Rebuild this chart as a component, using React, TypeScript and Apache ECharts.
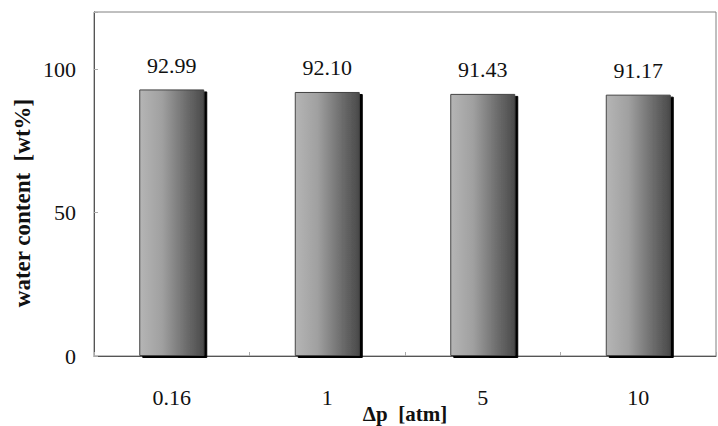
import React, { useEffect, useRef } from "react";
import * as echarts from "echarts";

const categories = ["0.16", "1", "5", "10"];
const waterContent = [92.99, 92.1, 91.43, 91.17];
const yTicks = { min: 0, max: 120, interval: 50 };
const xAxisName = "Δp  [atm]";
const yAxisName = "water content  [wt%]";

export default function App() {
  const ref = useRef<HTMLDivElement>(null);
  useEffect(() => {
    if (!ref.current) return;
    const chart = echarts.init(ref.current, null, { renderer: "svg" });
    const font = "'Liberation Serif', 'Times New Roman', serif";
    chart.setOption({
      animation: false,
      backgroundColor: "#ffffff",
      grid: {
        left: 94,
        right: 2,
        top: 12,
        bottom: 70,
        show: true,
        borderColor: "#808080",
        borderWidth: 1,
        outerBoundsMode: "none",
        containLabel: false,
      },
      xAxis: {
        type: "category",
        data: categories,
        name: xAxisName,
        nameLocation: "middle",
        nameGap: 47,
        nameMoveOverlap: false,
        nameTextStyle: { fontFamily: font, fontSize: 21, fontWeight: "bold", color: "#111" },
        axisLine: { lineStyle: { color: "#555", width: 1 } },
        axisTick: { show: true, inside: true, length: 4, lineStyle: { color: "#aaa" } },
        axisLabel: { margin: 30, fontFamily: font, fontSize: 22, color: "#111" },
      },
      yAxis: {
        type: "value",
        min: yTicks.min,
        max: yTicks.max,
        interval: yTicks.interval,
        axisLine: { show: true, lineStyle: { color: "#555", width: 1 } },
        axisTick: { show: true, inside: true, length: 4, lineStyle: { color: "#aaa" } },
        splitLine: { show: false },
        axisLabel: {
          margin: 18,
          fontFamily: font,
          fontSize: 22,
          color: "#111",
          formatter: (v: number) => (v % 50 === 0 && v <= 100 ? String(v) : ""),
        },
      },
      graphic: [
        {
          type: "text",
          x: 22,
          y: 203,
          rotation: Math.PI / 2,
          style: {
            text: yAxisName,
            fontFamily: font,
            fontSize: 23,
            fontWeight: "bold",
            fill: "#111",
            align: "center",
            verticalAlign: "middle",
          },
        },
      ],
      series: [
        {
          type: "bar",
          data: waterContent,
          barWidth: 65,
          itemStyle: {
            color: new echarts.graphic.LinearGradient(0, 0, 1, 0, [
              { offset: 0, color: "#b5b5b5" },
              { offset: 0.35, color: "#a0a0a0" },
              { offset: 0.7, color: "#707070" },
              { offset: 1, color: "#4a4a4a" },
            ]),
            borderColor: "#444",
            borderWidth: 1,
            shadowColor: "#000",
            shadowOffsetX: 3,
            shadowOffsetY: 2,
            shadowBlur: 0,
          },
          label: {
            show: true,
            position: "top",
            distance: 13,
            fontFamily: font,
            fontSize: 22,
            color: "#111",
            formatter: (p: any) => p.value.toFixed(2),
          },
        },
      ],
    });
    return () => chart.dispose();
  }, []);
  return <div ref={ref} style={{ width: 718, height: 426, position: "absolute", left: 0, top: 0 }} />;
}
